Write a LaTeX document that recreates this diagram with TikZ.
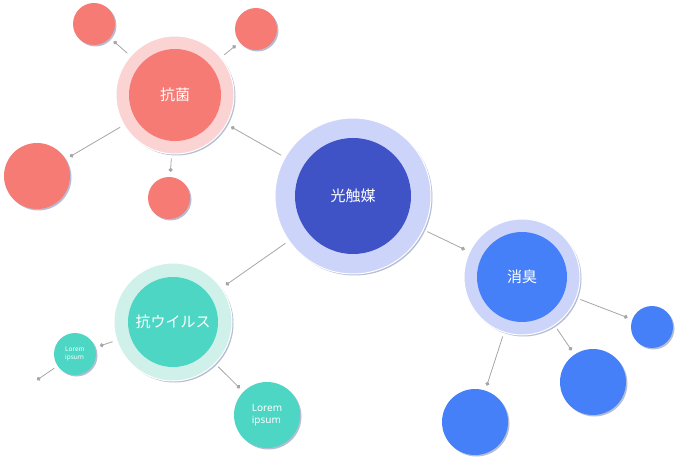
\documentclass[tikz,border=0pt]{standalone}
\usepackage{fontspec}
\setmainfont{Noto Sans}
\newfontfamily\jpfont{Noto Sans CJK JP}
\usetikzlibrary{shadows,arrows.meta}
\definecolor{redc}{HTML}{F67B75}
\definecolor{redring}{HTML}{FBD3D3}
\definecolor{navyc}{HTML}{3F53C6}
\definecolor{navyring}{HTML}{CDD4FA}
\definecolor{tealc}{HTML}{4DD6C4}
\definecolor{tealring}{HTML}{D0F0EA}
\definecolor{bluec}{HTML}{4580F8}
\definecolor{bluering}{HTML}{CDD4FA}
\definecolor{shadowc}{HTML}{5A6E9E}
\tikzset{
  bubble/.style={circle, inner sep=0pt, text=white,
    drop shadow={shadow xshift=1.5pt, shadow yshift=-1.5pt, fill=shadowc, opacity=.45}},
  ring/.style={circle, inner sep=0pt, draw=white, line width=1pt},
  core/.style={circle, inner sep=0pt, text=white, font=\jpfont\fontsize{15}{15}\selectfont},
  link/.style={draw=gray!70, line width=0.8pt, shorten <=4pt, shorten >=5pt,
    -{Circle[length=4pt]}},
}
\begin{document}
\begin{tikzpicture}[x=1pt,y=-1pt]
  \useasboundingbox (0,0) rectangle (680,462);
  % hubs
  \node[bubble, ring, fill=navyring, minimum size=156pt] (hub) at (353,196) {};
  \node[core, fill=navyc, minimum size=116pt] (hubcore) at (hub) {光触媒};
  \node[bubble, ring, fill=redring, minimum size=118pt] (kokin) at (175,95) {};
  \node[core, fill=redc, minimum size=92pt] (kokincore) at (kokin) {抗菌};
  \node[bubble, ring, fill=tealring, minimum size=118pt] (virus) at (173,322) {};
  \node[core, fill=tealc, minimum size=90pt] (viruscore) at (virus) {抗ウイルス};
  \node[bubble, ring, fill=bluering, minimum size=116pt] (shoshu) at (522,277) {};
  \node[core, fill=bluec, minimum size=90pt] (shoshucore) at (shoshu) {消臭};
  % leaves
  \node[bubble, fill=redc, minimum size=42pt] (r1) at (94,24) {};
  \node[bubble, fill=redc, minimum size=42pt] (r2) at (256,29) {};
  \node[bubble, fill=redc, minimum size=66pt] (r3) at (37,176) {};
  \node[bubble, fill=redc, minimum size=42pt] (r4) at (169,198) {};
  \node[bubble, fill=tealc, minimum size=42pt, align=left, font=\fontsize{6.5}{8}\selectfont] (t1) at (75,354) {Lorem\\ipsum};
  \node[bubble, fill=tealc, minimum size=66pt, align=left, font=\fontsize{10}{12}\selectfont] (t2) at (267,415) {Lorem\\ipsum};
  \node[bubble, fill=bluec, minimum size=42pt] (b1) at (652,327) {};
  \node[bubble, fill=bluec, minimum size=66pt] (b2) at (593,382) {};
  \node[bubble, fill=bluec, minimum size=66pt] (b3) at (475,422) {};
  \coordinate (tend) at (37,380);
  % links
  \draw[link] (hub) -- (kokin);
  \draw[link] (hub) -- (virus);
  \draw[link] (hub) -- (shoshu);
  \foreach \leaf in {r1,r2,r3,r4}
    \draw[link] (kokin) -- (\leaf);
  \foreach \leaf in {t1,t2}
    \draw[link] (virus) -- (\leaf);
  \draw[link, shorten >=0pt] (t1) -- (tend);
  \foreach \leaf in {b1,b2,b3}
    \draw[link] (shoshu) -- (\leaf);
\end{tikzpicture}
\end{document}
